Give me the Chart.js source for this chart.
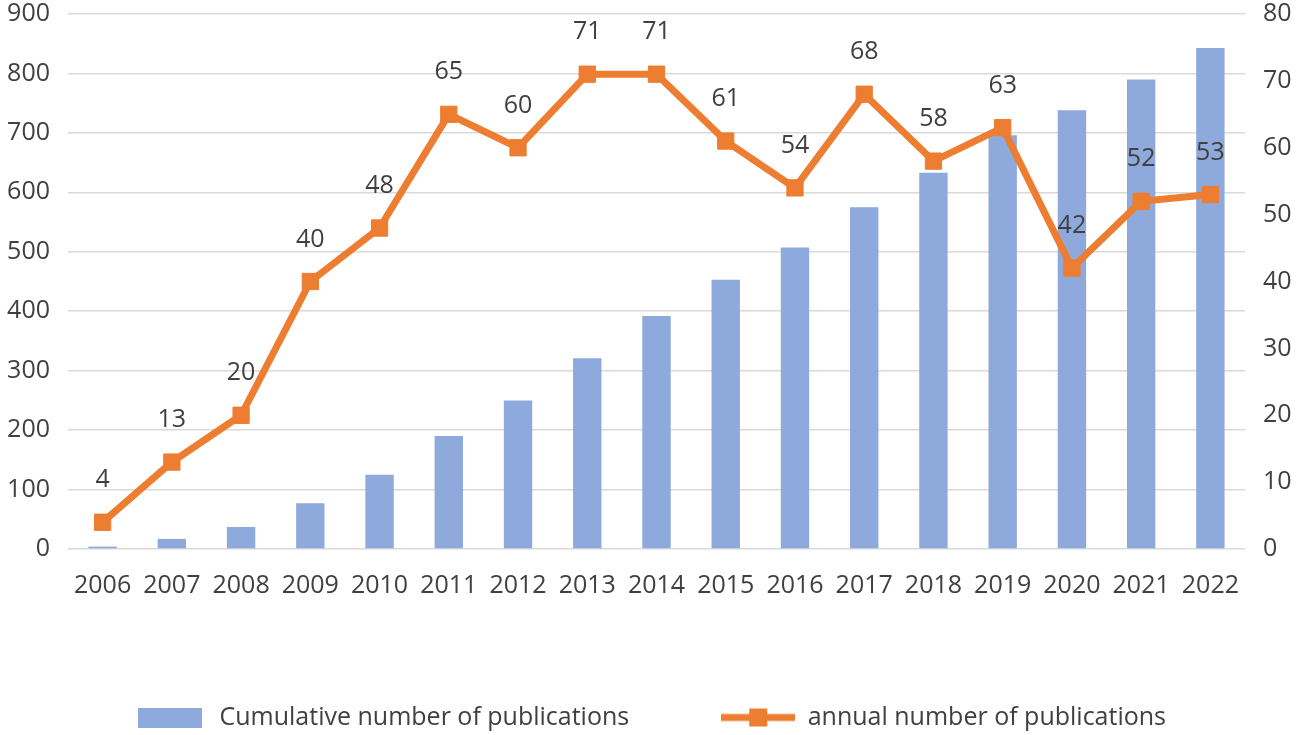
<!DOCTYPE html>
<html>
<head>
<meta charset="utf-8">
<script src="https://cdn.jsdelivr.net/npm/chart.js@4"></script>
<style>
html,body{margin:0;padding:0;background:#fff;}
#wrap{width:1299px;height:735px;position:relative;}
</style>
</head>
<body>
<div id="wrap"><canvas id="c"></canvas></div>
<script>
const years = ['2006','2007','2008','2009','2010','2011','2012','2013','2014','2015','2016','2017','2018','2019','2020','2021','2022'];
const cumulative = [4,17,37,77,125,190,250,321,392,453,507,575,633,696,738,790,843];
const annual = [4,13,20,40,48,65,60,71,71,61,54,68,58,63,42,52,53];
const leftTicks = [0,100,200,300,400,500,600,700,800,900];
const rightTicks = [0,10,20,30,40,50,60,70,80];

const BLUE = '#8EA9DB';
const ORANGE = '#ED7D31';
const TEXT = '#404040';
const FONT = "'Open Sans', 'Liberation Sans', sans-serif";

function makeBarIcon(){
  const c = document.createElement('canvas'); c.width = 64; c.height = 20;
  const x = c.getContext('2d'); x.fillStyle = BLUE; x.fillRect(0,0,64,20); return c;
}
function makeLineIcon(){
  const c = document.createElement('canvas'); c.width = 74; c.height = 22;
  const x = c.getContext('2d');
  x.strokeStyle = ORANGE; x.lineWidth = 7; x.beginPath(); x.moveTo(0,11); x.lineTo(74,11); x.stroke();
  x.fillStyle = ORANGE; x.fillRect(28,2,18,18); return c;
}
const icons = [makeBarIcon(), makeLineIcon()];

const dataLabels = {
  id: 'dataLabels',
  afterDatasetsDraw(chart){
    const meta = chart.getDatasetMeta(1);
    const ctx = chart.ctx;
    ctx.save();
    ctx.font = "25px " + FONT;
    ctx.fillStyle = TEXT;
    ctx.textAlign = 'center';
    ctx.textBaseline = 'middle';
    meta.data.forEach((pt, i) => {
      ctx.fillText(String(annual[i]), pt.x, pt.y - 42);
    });
    ctx.restore();
  }
};

function fixVertical(width){
  return function(scale){
    scale.width = width;
    scale.paddingTop = 0;
    scale.paddingBottom = 0;
  };
}

new Chart(document.getElementById('c'), {
  data: {
    labels: years,
    datasets: [
      {
        type: 'bar',
        label: 'Cumulative number of publications',
        data: cumulative,
        backgroundColor: BLUE,
        borderWidth: 0,
        yAxisID: 'y',
        order: 2,
        categoryPercentage: 1.0,
        barPercentage: 0.41
      },
      {
        type: 'line',
        label: 'annual number of publications',
        data: annual,
        borderColor: ORANGE,
        backgroundColor: ORANGE,
        borderWidth: 7,
        pointStyle: 'rect',
        pointRadius: 11.5,
        pointHoverRadius: 11.5,
        pointBorderWidth: 1,
        pointBackgroundColor: ORANGE,
        pointBorderColor: ORANGE,
        tension: 0,
        yAxisID: 'y1',
        order: 1
      }
    ]
  },
  options: {
    responsive: true,
    maintainAspectRatio: false,
    animation: false,
    devicePixelRatio: 1,
    layout: { autoPadding: false, padding: { top: 14, bottom: -5, left: 0, right: 0 } },
    plugins: {
      tooltip: { enabled: false },
      legend: {
        position: 'bottom',
        labels: {
          usePointStyle: true,
          pointStyleWidth: 74,
          boxHeight: 22,
          padding: 92,
          color: TEXT,
          font: { size: 25, family: FONT },
          sort: (a, b) => a.datasetIndex - b.datasetIndex,
          generateLabels(chart){
            const items = Chart.defaults.plugins.legend.labels.generateLabels(chart);
            items.forEach((it) => { it.pointStyle = icons[it.datasetIndex]; });
            return items;
          }
        }
      }
    },
    scales: {
      x: {
        offset: true,
        grid: { display: false, drawTicks: false },
        border: { display: false },
        ticks: { color: TEXT, font: { size: 25, family: FONT }, padding: 22, maxRotation: 0, autoSkip: false },
        afterFit(scale){ scale.height = 64; }
      },
      y: {
        position: 'left',
        min: 0, max: 900,
        afterBuildTicks(scale){ scale.ticks = leftTicks.map(v => ({ value: v })); },
        grid: { color: '#D9D9D9', lineWidth: 1.5, drawTicks: false },
        border: { display: false },
        ticks: { color: TEXT, font: { size: 25, family: FONT }, padding: 18 },
        afterFit: fixVertical(68)
      },
      y1: {
        position: 'right',
        min: 0, max: 80,
        afterBuildTicks(scale){ scale.ticks = rightTicks.map(v => ({ value: v })); },
        grid: { display: false, drawTicks: false },
        border: { display: false },
        ticks: { color: TEXT, font: { size: 25, family: FONT }, padding: 18 },
        afterFit: fixVertical(54)
      }
    }
  },
  plugins: [dataLabels]
});
</script>
</body>
</html>
